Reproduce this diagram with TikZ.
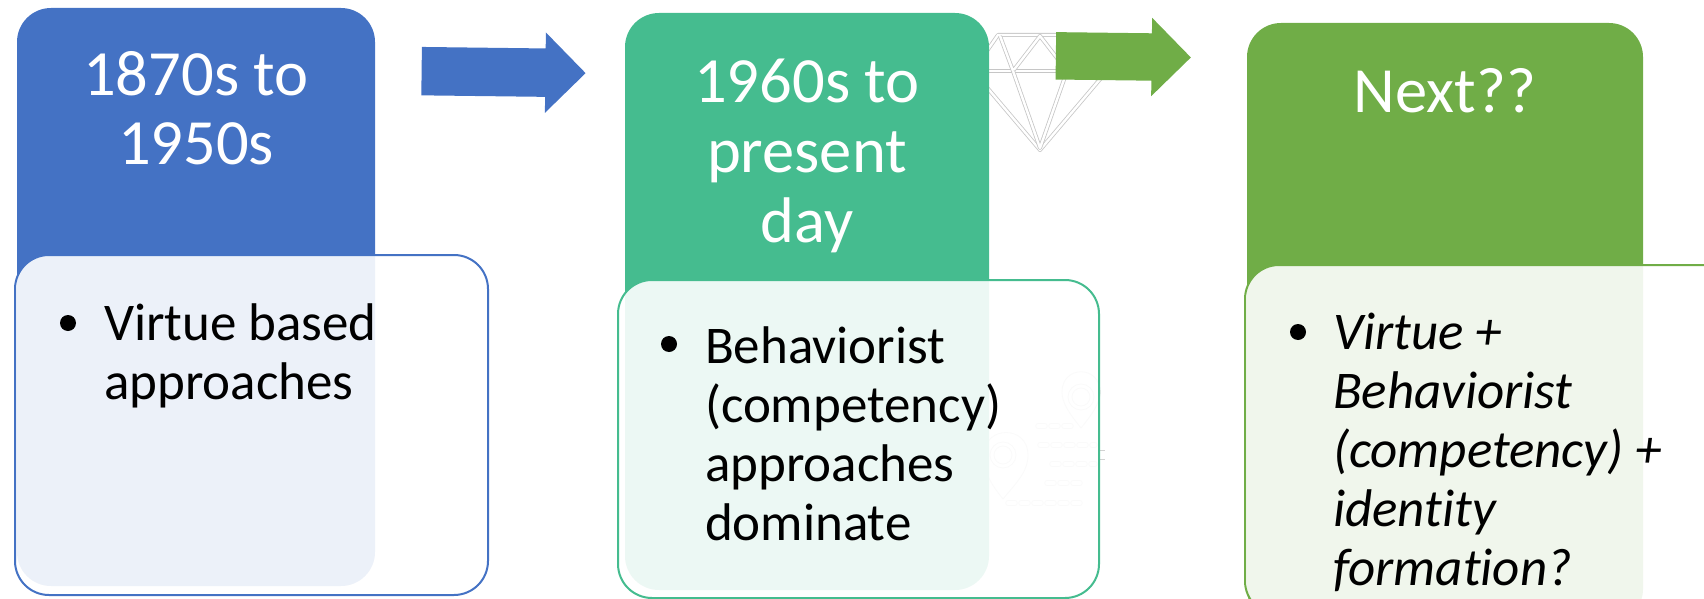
\documentclass[tikz,border=0pt]{standalone}
\usepackage{fontspec}
\setmainfont[Ligatures=NoCommon]{Carlito}
\usetikzlibrary{shapes.arrows}

\definecolor{eraBlue}{HTML}{4472C4}
\definecolor{eraTeal}{HTML}{45BC8F}
\definecolor{eraGreen}{HTML}{70AD47}
\newcommand{\titlefont}{\fontsize{64.5}{70}\selectfont}
\newcommand{\bodyfont}{\fontsize{53}{59}\selectfont}

\begin{document}
\begin{tikzpicture}[x=1pt,y=-1pt]
\tikzstyle{every node}=[inner sep=0pt,outer sep=0pt]
\tikzstyle{era}=[rounded corners=34pt]
\tikzstyle{detail}=[rounded corners=34pt,line width=2pt,fill=white,fill opacity=0.9,text opacity=1]
\tikzstyle{heading}=[white,font=\titlefont,align=center,anchor=north]
\tikzstyle{item}=[black,font=\bodyfont,align=left,anchor=north west]
\tikzstyle{dot}=[circle,fill=black,minimum size=16pt]
\tikzstyle{flow}=[single arrow,single arrow head indent=0pt,rotate=-0.7,text depth=0pt]
\tikzstyle{gem}=[draw=gray!45,line width=0.8pt,double=white,double distance=2.4pt,line join=round]
\tikzstyle{faint}=[draw=gray!35,line width=0.8pt]
\useasboundingbox (0,0) rectangle (1704,599);

% diamond icon behind the second arrow
\draw [gem] (998,35) -- (1082,35) -- (1107,71) -- (1040,150) -- (973,71) -- cycle;
\draw [gem] (973,71) -- (1107,71);
\draw [gem] (1000,36) -- (1013,71) -- (1040,36) -- (1067,71) -- (1080,36);
\draw [gem] (1013,71) -- (1040,148) -- (1067,71);

% map pins, seen through the second detail box
\draw [faint] (1081,428) .. controls (1068,412) and (1062,402) .. (1062,392) .. controls (1062,365) and (1100,365) .. (1100,392) .. controls (1100,402) and (1094,412) .. (1081,428);
\draw [faint] (1081,397) circle (9pt) (1081,397) circle (13pt);
\draw [faint] (1003,499) .. controls (990,483) and (984,472) .. (984,455) .. controls (984,425) and (1028,425) .. (1028,455) .. controls (1028,472) and (1016,483) .. (1003,499);
\draw [faint] (1003,455) circle (9pt) (1003,455) circle (13pt);
\draw [faint,dash pattern=on 7pt off 6pt,double=white,double distance=3.5pt,line cap=round] (1038,426) -- (1072,426) (1040,445) -- (1095,445) (1052,464) -- (1095,464) (1047,483) -- (1085,483) (1008,503) -- (1085,503);
\draw [gray!35,line width=1pt] (1100,450) -- (1105,450) (1100,459) -- (1105,459);

\node [era,fill=eraBlue,minimum width=358pt,minimum height=578pt] (era1) at (196,297) {};
\node [era,fill=eraTeal,minimum width=364pt,minimum height=577pt] (era2) at (807,301.5) {};
\node [era,fill=eraGreen,minimum width=396pt,minimum height=600pt] (era3) at (1445,323) {};

\node [flow,fill=eraBlue,text height=48pt,minimum height=164pt,minimum width=80pt,single arrow head extend=16pt] (flow1) at (491.5,72) {};
\node [flow,fill=eraGreen,text height=47pt,minimum height=135pt,minimum width=78pt,single arrow head extend=15.5pt] (flow2) at (1111.5,56.5) {};

\node [detail,draw=eraBlue,minimum width=473pt,minimum height=340pt] (detail1) at (251.5,425) {};
\node [detail,draw=eraTeal,minimum width=481pt,minimum height=318pt] (detail2) at (858.5,439) {};
\node [detail,draw=eraGreen,minimum width=490pt,minimum height=350pt] (detail3) at (1490,440) {};

\node [heading] (title1) at (196,46) {\strut 1870s to\\1950s};
\node [heading] (title2) at (807,53) {\strut 1960s to\\present\\day};
\node [heading] (title3) at (1445,64) {\strut Next??};

\node [dot] (dot1) at (68,323) {};
\node [item] (body1) at (104,299) {\strut Virtue based\\approaches};
\node [dot] (dot2) at (669,344) {};
\node [item] (body2) at (705,322) {\strut Behaviorist\\(competency)\\approaches\\dominate};
\node [dot] (dot3) at (1298,332) {};
\node [item,font=\bodyfont\itshape] (body3) at (1333,308) {\strut Virtue +\\Behaviorist\\(competency) +\\identity\\formation?};
\end{tikzpicture}
\end{document}
